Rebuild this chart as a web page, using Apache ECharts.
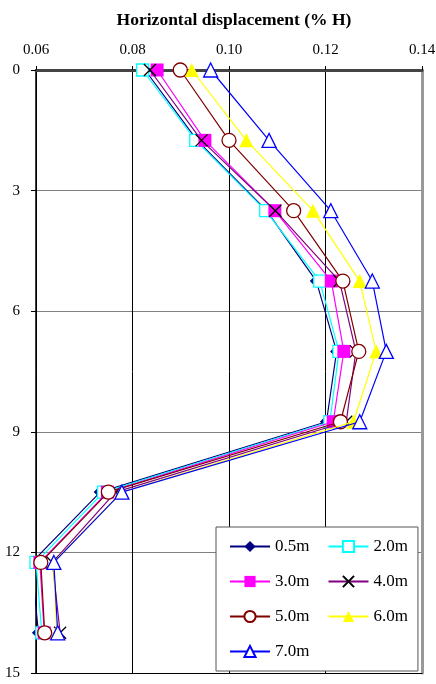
<!DOCTYPE html>
<html>
<head>
<meta charset="utf-8">
<script src="https://cdn.jsdelivr.net/npm/echarts@6/dist/echarts.min.js"></script>
<style>
html,body{margin:0;padding:0;background:#fff;}
#chart{width:436px;height:684px;}
</style>
</head>
<body>
<div id="chart"></div>
<script>
const depths = [0, 1.75, 3.5, 5.25, 7, 8.75, 10.5, 12.25, 14];
const seriesNames = ['0.5m', '2.0m', '3.0m', '4.0m', '5.0m', '6.0m', '7.0m'];
const s05 = [0.0826, 0.0934, 0.1078, 0.1181, 0.1223, 0.1202, 0.0733, 0.0591, 0.0605];
const s20 = [0.0821, 0.0931, 0.1076, 0.1188, 0.1228, 0.1209, 0.0740, 0.0600, 0.0612];
const s30 = [0.0851, 0.0950, 0.1095, 0.1212, 0.1238, 0.1216, 0.0748, 0.0608, 0.0617];
const s40 = [0.0836, 0.0943, 0.1096, 0.1229, 0.1263, 0.1243, 0.0765, 0.0634, 0.0650];
const s50 = [0.0899, 0.1000, 0.1134, 0.1236, 0.1269, 0.1231, 0.0750, 0.0610, 0.0618];
const s60 = [0.0923, 0.1036, 0.1174, 0.1271, 0.1305, 0.1258, 0.0777, 0.0636, 0.0643];
const s70 = [0.0962, 0.1083, 0.1211, 0.1297, 0.1326, 0.1271, 0.0778, 0.0637, 0.0645];
const xTicks = [0.06, 0.08, 0.10, 0.12, 0.14];
const yTicks = [0, 3, 6, 9, 12, 15];

const values = [s05, s20, s30, s40, s50, s60, s70];
const FONT = 'Liberation Serif';
const styles = [
  {color:'#000080', symbol:'diamond', size:13, fill:'#000080', border:'#000080'},
  {color:'#00FFFF', symbol:'rect', size:12, fill:'#ffffff', border:'#00FFFF'},
  {color:'#FF00FF', symbol:'rect', size:13, fill:'#FF00FF', border:'#FF00FF'},
  {color:'#800080', symbol:'path://M0,0L10,10M10,0L0,10', size:12, fill:'none', border:'#000000'},
  {color:'#800000', symbol:'circle', size:14, fill:'#ffffff', border:'#800000'},
  {color:'#FFFF00', symbol:'triangle', size:14, fill:'#FFFF00', border:'#FFFF00'},
  {color:'#0000FF', symbol:'triangle', size:14, fill:'#ffffff', border:'#0000FF'}
];

const series = seriesNames.map((name, i) => {
  const st = styles[i];
  return {
    name: name,
    type: 'line',
    xAxisIndex: 0,
    yAxisIndex: 0,
    data: values[i].map((v, k) => [v, depths[k]]),
    symbol: st.symbol,
    symbolSize: st.size,
    showAllSymbol: true,
    lineStyle: {color: st.color, width: 1.2},
    itemStyle: {color: st.fill === 'none' ? 'rgba(0,0,0,0)' : st.fill, borderColor: st.border, borderWidth: (i===0||i===2||i===5) ? 0 : 1.3},
    emphasis: {disabled: true},
    animation: false,
    z: 3 + i
  };
});

const chart = echarts.init(document.getElementById('chart'));
chart.setOption({
  backgroundColor: '#ffffff',
  animation: false,
  title: {
    text: 'Horizontal displacement (% H)',
    left: 229, top: 6, textAlign: 'center',
    textStyle: {fontFamily: FONT, fontSize: 17.5, fontWeight: 'bold', color: '#000'}
  },
  grid: {left: 36, right: 14, top: 70, bottom: 11, containLabel: false, outerBoundsMode: 'none'},
  legend: {
    data: seriesNames,
    left: 216, top: 527,
    width: 205,
    orient: 'horizontal',
    itemWidth: 40, itemHeight: 14, itemGap: 18,
    padding: [11, 10, 11, 13],
    backgroundColor: '#ffffff',
    borderColor: '#555555', borderWidth: 1,
    formatter: n => '{t|' + n + '}',
    textStyle: {fontFamily: FONT, fontSize: 17, color: '#000',
      rich: {t: {fontFamily: FONT, fontSize: 17, color: '#000', width: 44}}},
    selectedMode: false
  },
  xAxis: [{
    type: 'value', position: 'top',
    min: xTicks[0], max: xTicks[xTicks.length-1], interval: 0.02,
    axisLine: {show: true, onZero: false, lineStyle: {color: '#444', width: 3}},
    axisTick: {show: true, length: 4, lineStyle: {color: '#000'}},
    axisLabel: {fontFamily: FONT, fontSize: 15, color: '#000', margin: 12,
      formatter: v => v.toFixed(2)},
    splitLine: {show: true, lineStyle: {color: '#000', width: 1}}
  }, {
    type: 'value', position: 'bottom',
    min: xTicks[0], max: xTicks[xTicks.length-1], interval: 0.02,
    axisLine: {show: true, onZero: false, lineStyle: {color: '#000', width: 1}},
    axisTick: {show: false}, axisLabel: {show: false}, splitLine: {show: false}
  }],
  yAxis: [{
    type: 'value', inverse: true, position: 'left',
    min: yTicks[0], max: yTicks[yTicks.length-1], interval: 3,
    name: 'Depth (m)', nameLocation: 'middle', nameGap: 30, nameRotate: 90,
    nameTextStyle: {fontFamily: FONT, fontSize: 16, fontWeight: 'bold', color: '#000'},
    axisLine: {show: true, onZero: false, lineStyle: {color: '#000', width: 1.5}},
    axisTick: {show: true, length: 5, lineStyle: {color: '#000'}},
    axisLabel: {fontFamily: FONT, fontSize: 15, color: '#000', margin: 16},
    splitLine: {show: true, lineStyle: {color: '#808080', width: 1.2}}
  }, {
    type: 'value', inverse: true, position: 'right',
    min: yTicks[0], max: yTicks[yTicks.length-1], interval: 3,
    axisLine: {show: true, onZero: false, lineStyle: {color: '#999', width: 3}},
    axisTick: {show: false}, axisLabel: {show: false}, splitLine: {show: false}
  }],
  series: series
});
</script>
</body>
</html>
